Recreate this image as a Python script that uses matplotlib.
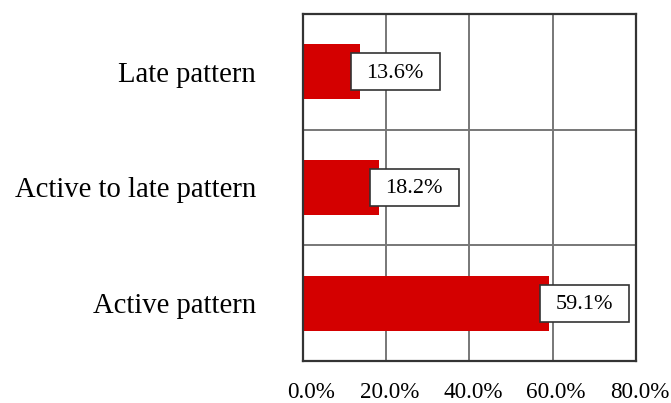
import matplotlib
matplotlib.use('Agg')
import matplotlib.pyplot as plt
from matplotlib.patches import Rectangle
from matplotlib.ticker import FuncFormatter
from matplotlib.transforms import ScaledTranslation

plt.rcParams['font.family'] = ['Liberation Serif', 'DejaVu Serif']

# データ（下から上の順）
categories = ['Active pattern', 'Active to late pattern', 'Late pattern']
values = [59.1, 18.2, 13.6]
x_ticks = [0, 20, 40, 60, 80]

BAR_COLOR = '#d40000'
FRAME_COLOR = '#333333'
GRID_COLOR = '#777777'

fig = plt.figure(figsize=(6.71, 4.03), dpi=100)
ax = fig.add_axes([0.4516, 0.1042, 0.4962, 0.8611])

y = list(range(len(categories)))
ax.barh(y, values, height=0.475, color=BAR_COLOR, zorder=2)

ax.set_xlim(0, 80)
ax.set_ylim(-0.5, len(categories) - 0.5)
ax.set_xticks(x_ticks)
ax.xaxis.set_major_formatter(FuncFormatter(lambda v, p: f'{v:.1f}%'))
ax.set_yticks(y)
ax.set_yticklabels(categories)

# 区切り線（カテゴリ間）
ax.set_yticks([i + 0.5 for i in y[:-1]], minor=True)
ax.grid(True, axis='x', which='major', color=GRID_COLOR, lw=1.4, zorder=1)
ax.grid(True, axis='y', which='minor', color=GRID_COLOR, lw=1.4, zorder=1)
ax.tick_params(axis='x', which='both', length=0, labelsize=16.7, pad=15)
ax.tick_params(axis='y', which='both', length=0, labelsize=20.6, pad=34)

# x目盛ラベルを少し右へ（元図に合わせる）
for i, lab in enumerate(ax.get_xticklabels()):
    dx = 8 if i == 0 else 3.5
    lab.set_transform(lab.get_transform() + ScaledTranslation(dx / 100, 0, fig.dpi_scale_trans))

for s in ax.spines.values():
    s.set_color(FRAME_COLOR)
    s.set_linewidth(1.6)

# 値ラベル（白い枠付き）：枠はバー先端を基準にインチ単位で描く
BOX_W, BOX_H, BOX_DX = 0.89, 0.37, -0.09
for yi, v in zip(y, values):
    anchor = fig.dpi_scale_trans + ScaledTranslation(v, yi, ax.transData)
    ax.add_patch(Rectangle((BOX_DX, -BOX_H / 2), BOX_W, BOX_H, transform=anchor,
                           fc='white', ec=FRAME_COLOR, lw=1.2, zorder=3,
                           clip_on=False))
    ax.annotate(f'{v:.1f}%', xy=(v, yi), xytext=(25.6, -1.0),
                textcoords='offset points', ha='center', va='center',
                fontsize=16, zorder=4)

fig.savefig('out.png', dpi=100)
